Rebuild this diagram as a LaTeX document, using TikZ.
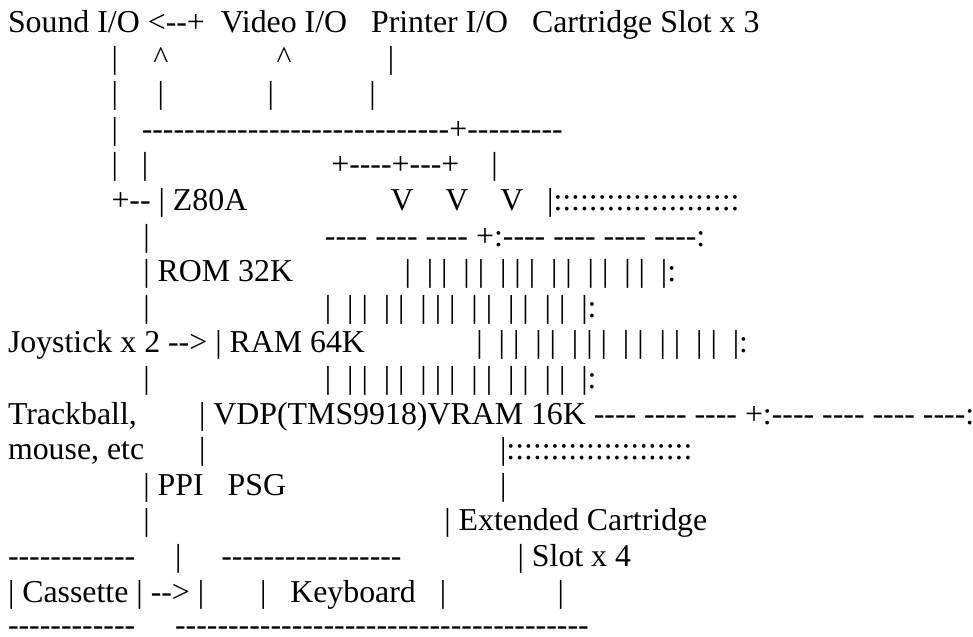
\documentclass[tikz,border=0pt]{standalone}
\usepackage{fontspec}
\newfontfamily\ascfont{Liberation Serif}
\ExplSyntaxOn
\cs_new:Npn \myrep #1#2 {\prg_replicate:nn{#1}{#2}}
\ExplSyntaxOff
\newcommand\gp[1]{\hskip#1\fontdimen2\font\relax}
\newcommand\dsh[1]{\myrep{#1}{-\kern0pt\relax}}
\newcommand\cln[1]{\myrep{#1}{:}}
\newcommand\barsrow{|\gp2| |\gp2| |\gp2| | |\gp2| |\gp2| |\gp2| |\gp2|:}
\newcommand\dgrp{\dsh4 \dsh4 \dsh4 +:\dsh4 \dsh4 \dsh4 \dsh4:}
\def\sw{7.9625}
\tikzset{
  asc/.style={font=\ascfont\fontsize{23.8875pt}{28pt}\selectfont\frenchspacing,
    inner sep=0pt, outer sep=0pt, anchor=base west},
  ascc/.style={asc, anchor=base}
}
\begin{document}
\begin{tikzpicture}[x=0.75pt, y=-0.75pt]
\fill[white] (0,0) rectangle (973,636);
\useasboundingbox (0,0) rectangle (973,636);
% line 1
\node[asc] (l1) at (8,32.5) {Sound I/O <\dsh2+\gp2Video I/O\gp3Printer I/O\gp3Cartridge Slot x 3};
% line 2
\node[asc] (l2a) at ({8+13*\sw},68.1) {|};
\node[ascc] (l2b) at ({8+19.2*\sw},68.1) {\textasciicircum};
\node[ascc] (l2c) at ({8+34.67*\sw},68.1) {\textasciicircum};
\node[asc] (l2d) at ({8+47.7*\sw},68.1) {|};
% line 3
\node[asc] (l3) at ({8+13*\sw},103.7) {|\gp5|\gp{13}|\gp{12}|};
% line 4
\node[asc] (l4) at ({8+13*\sw},139.3) {|\gp3\dsh{29}+\dsh9};
% line 5
\node[asc] (l5) at ({8+13*\sw},174.9) {|\gp3|\gp{23}+\dsh4+\dsh3+\gp4|};
% line 6
\node[asc] (l6) at ({8+13*\sw},210.5) {+\dsh2 | Z80A\gp{18}V\gp4V\gp4V\gp3|\cln{21}};
% line 7
\node[asc] (l7) at ({8+17*\sw},246.1) {|\gp{22}\dgrp};
% line 8
\node[asc] (l8) at ({8+17*\sw},281.7) {| ROM 32K\gp{14}\barsrow};
% line 9
\node[asc] (l9) at ({8+17*\sw},317.3) {|\gp{22}\barsrow};
% line 10
\node[asc] (l10) at (8,352.9) {Joystick x 2 \dsh2> | RAM 64K\gp{14}\barsrow};
% line 11
\node[asc] (l11) at ({8+17*\sw},388.5) {|\gp{22}\barsrow};
% line 12
\node[asc] (l12a) at (8,424.1) {Trackball,};
\node[asc] (l12b) at ({8+24*\sw},424.1) {| VDP(TMS9918)VRAM 16K \dgrp};
% line 13
\node[asc] (l13a) at (8,459.7) {mouse, etc};
\node[asc] (l13b) at ({8+24*\sw},459.7) {|\gp{37}|\cln{21}};
% line 14
\node[asc] (l14a) at ({8+17*\sw},495.3) {| PPI\gp3PSG};
\node[asc] (l14b) at ({8+61.8*\sw},495.3) {|};
% line 15
\node[asc] (l15a) at ({8+17*\sw},530.9) {|};
\node[asc] (l15b) at ({8+54.8*\sw},530.9) {| Extended Cartridge};
% line 16
\node[asc] (l16a) at (8,566.5) {\dsh{12}\gp5|\gp5\dsh{17}};
\node[asc] (l16b) at ({8+64*\sw},566.5) {| Slot x 4};
% line 17
\node[asc] (l17) at (8,602.1) {| Cassette | \dsh2> |\gp7|\gp3Keyboard\gp3|\gp{14}|};
% line 18
\node[asc] (l18) at (8,635) {\dsh{12}\gp5\dsh{39}};
\end{tikzpicture}
\end{document}
